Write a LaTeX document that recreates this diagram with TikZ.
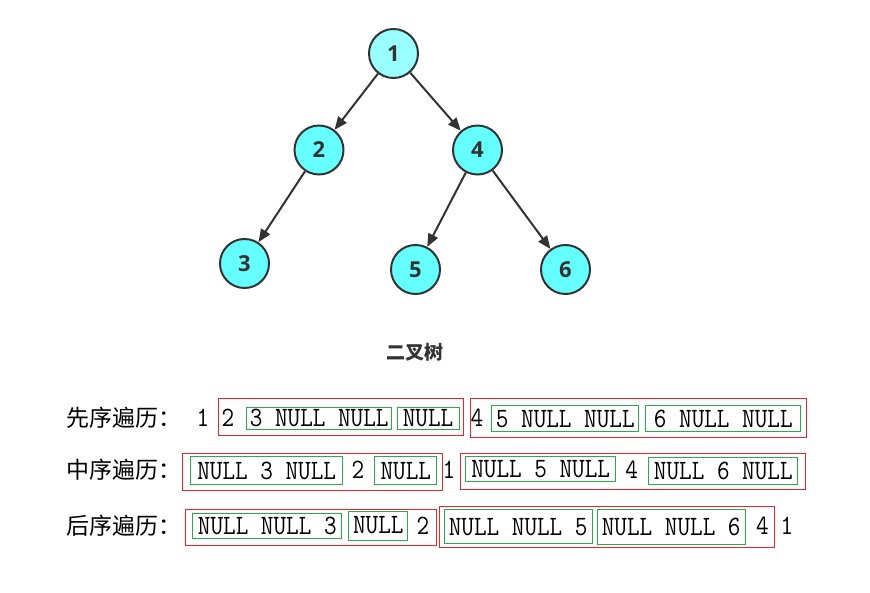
\documentclass[tikz,border=0pt]{standalone}
\usepackage{fontspec}
\setmonofont{Latin Modern Mono}[FakeStretch=0.875]
\newfontfamily\cjkfont{Noto Sans CJK SC}
\newfontfamily\nodefont{Open Sans}
\usetikzlibrary{arrows.meta}
\definecolor{tinta}{HTML}{333333}
\definecolor{cian}{HTML}{66FFFF}
\definecolor{ciancla}{HTML}{99FFFF}
\definecolor{rojo}{HTML}{E5262C}
\definecolor{verde}{HTML}{2DAA4F}
\tikzset{
  nodo/.style   = {circle, draw=tinta, fill=cian, line width=2pt,
                   minimum size=49pt, inner sep=0pt, text=tinta,
                   font=\nodefont\bfseries\fontsize{22}{24}\selectfont},
  raiz/.style   = {nodo, fill=ciancla},
  rama/.style   = {-{Triangle[length=13pt,width=10.5pt]}, draw=tinta, line width=2pt},
  titulo/.style = {font=\cjkfont\bfseries\fontsize{19}{21}\selectfont, text=tinta},
  orden/.style  = {font=\cjkfont\fontsize{23}{26}\selectfont, anchor=base west,
                   inner sep=0pt},
  txt/.style    = {font=\ttfamily\fontsize{28}{30}\selectfont, anchor=base,
                   inner sep=0pt},
  marco/.style  = {draw=rojo, line width=1pt, inner sep=0pt},
  grupo/.style  = {draw=verde, line width=1pt, inner sep=0pt,
                   font=\ttfamily\fontsize{28}{30}\selectfont},
}

\begin{document}
\begin{tikzpicture}[x=1pt,y=-1pt]
\useasboundingbox (0,0) rectangle (870,593);

% =============================================================================
% El arbol
% =============================================================================
\node[raiz] (n1) at (393.5,53.5) {1};
\node[nodo] (n2) at (319,150) {2};
\node[nodo] (n4) at (477.5,150) {4};
\node[nodo] (n3) at (244.5,263.5) {3};
\node[nodo] (n5) at (415.5,269.5) {5};
\node[nodo] (n6) at (565.5,269.5) {6};

\draw[rama] (n1) -- (n2);
\draw[rama] (n1) -- (n4);
\draw[rama] (n2) -- (n3);
\draw[rama] (n4) -- (n5);
\draw[rama] (n4) -- (n6);

\node[titulo] (tit) at (415,352) {二叉树};

% =============================================================================
% Recorrido en preorden
% =============================================================================
\node[orden] (pre) at (66,426.5) {先序遍历：};
\node[txt] (pre1) at (203,426.5) {1};
\node[marco, minimum width=244.7pt, minimum height=36pt] (preA) at (340.7,417) {};
\node[txt] (pre2) at (228,426.5) {2};
\node[grupo, minimum width=145pt, minimum height=22pt] (preA1) at (319.2,418) {3 NULL NULL};
\node[grupo, minimum width=62pt, minimum height=22pt] (preA2) at (428,418) {NULL};
\node[marco, minimum width=336pt, minimum height=38pt] (preB) at (638.7,418) {};
\node[txt] (pre4) at (477,426.5) {4};
\node[grupo, minimum width=147.3pt, minimum height=26.3pt] (preB1) at (565.3,418.8) {5 NULL NULL};
\node[grupo, minimum width=154.7pt, minimum height=26.3pt] (preB2) at (723.3,418.8) {6 NULL NULL};

% =============================================================================
% Recorrido en inorden
% =============================================================================
\node[orden] (in) at (66,478) {中序遍历：};
\node[marco, minimum width=260pt, minimum height=37pt] (inA) at (312.7,471.5) {};
\node[grupo, minimum width=152pt, minimum height=28.3pt] (inA1) at (266.7,470.8) {NULL 3 NULL};
\node[txt] (in2) at (358,478) {2};
\node[grupo, minimum width=61.7pt, minimum height=28.3pt] (inA2) at (405.8,470.8) {NULL};
\node[txt] (in1) at (449,478) {1};
\node[marco, minimum width=345pt, minimum height=36pt] (inB) at (633.2,471) {};
\node[grupo, minimum width=150pt, minimum height=24.7pt] (inB1) at (540.7,469.3) {NULL 5 NULL};
\node[txt] (in4) at (631.7,478) {4};
\node[grupo, minimum width=148.7pt, minimum height=27pt] (inB2) at (723.3,470.5) {NULL 6 NULL};

% =============================================================================
% Recorrido en postorden
% =============================================================================
\node[orden] (post) at (66,534) {后序遍历：};
\node[marco, minimum width=250.7pt, minimum height=36pt] (postA) at (311.3,527) {};
\node[grupo, minimum width=148.7pt, minimum height=25pt] (postA1) at (267.3,525.5) {NULL NULL 3};
\node[grupo, minimum width=58.7pt, minimum height=29pt] (postA2) at (378.3,525.5) {NULL};
\node[txt] (post2) at (423,534) {2};
\node[marco, minimum width=335pt, minimum height=41.3pt] (postB) at (606.8,527.3) {};
\node[grupo, minimum width=148.3pt, minimum height=33.7pt] (postB1) at (518.2,526.8) {NULL NULL 5};
\node[grupo, minimum width=147.7pt, minimum height=35pt] (postB2) at (671.2,526.5) {NULL NULL 6};
\node[txt] (post4) at (762.5,534) {4};
\node[txt] (post1) at (787,534) {1};

\end{tikzpicture}
\end{document}
